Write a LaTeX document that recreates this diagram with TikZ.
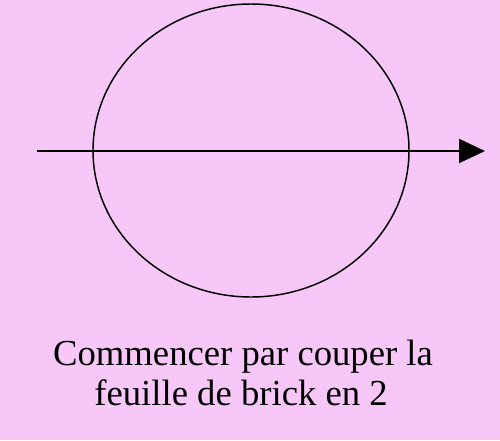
\documentclass[tikz,border=0pt]{standalone}
\usepackage{fontspec}
\setmainfont{Liberation Serif}
\usetikzlibrary{arrows.meta,shapes.geometric}
\definecolor{bgpink}{RGB}{247,200,247}
\tikzset{
  disc/.style={draw=black, line width=1.1pt, ellipse, inner sep=0pt, minimum width=237pt, minimum height=219.75pt},
  cutline/.style={draw=black, line width=1.5pt, -{Triangle[length=19.5pt,width=18pt]}},
  caption/.style={font=\fontsize{27.5pt}{33pt}\selectfont, align=center, inner sep=0pt}
}
\begin{document}
\begin{tikzpicture}[x=0.75pt,y=-0.75pt]
\fill[bgpink] (0,0) rectangle (500,440);
\useasboundingbox (0,0) rectangle (500,440);
\node[disc] (feuille) at (251,150.5) {};
\coordinate (start) at (37,151);
\coordinate (end) at (485,151);
\draw[cutline] (start) -- (end);
\node[caption, anchor=base] (l1) at (243,365) {Commencer par couper la};
\node[caption, anchor=base] (l2) at (241,405) {feuille de brick en 2};
\end{tikzpicture}
\end{document}
